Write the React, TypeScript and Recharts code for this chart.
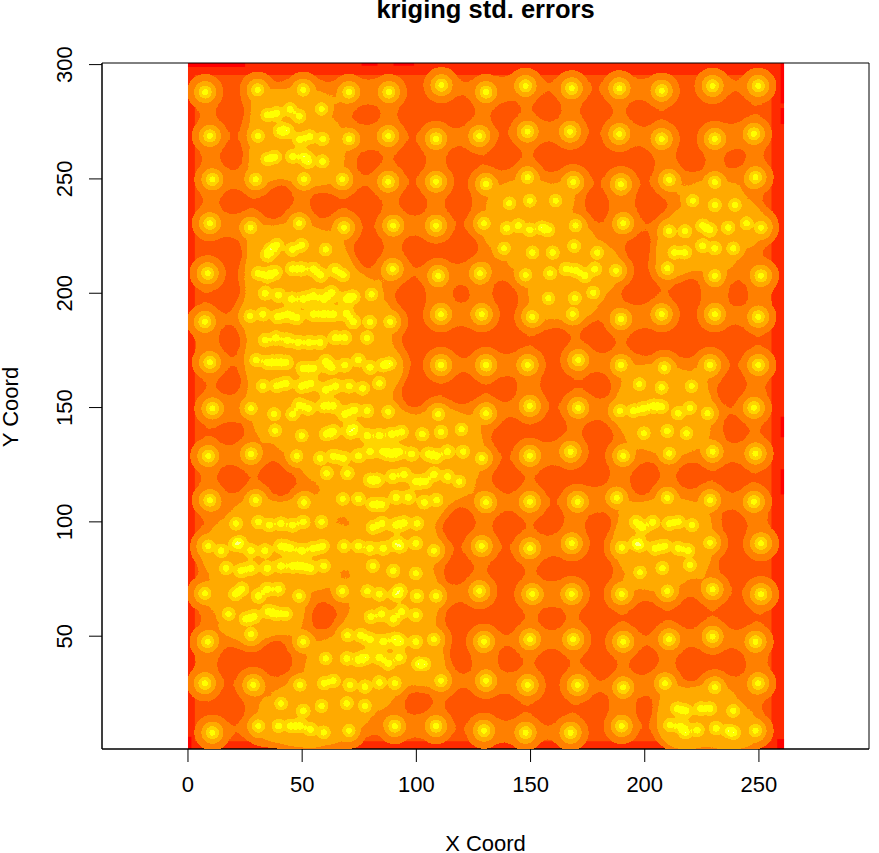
import { ScatterChart, Scatter, XAxis, YAxis, ReferenceArea } from "recharts";

// sample sites, [x, y]
const westSites = [
  [7.5,288],[30.5,289],[50.5,289],[70.5,288],[88,288],[111,291],[130.5,288],
  [34.7,278],[38.8,278.7],[44.7,280.5],[48.7,277.5],[58.5,280.6],
  [9.6,268.8],[30.6,268.8],[40.3,271],[43.2,271],[49,267.3],[53.4,268.5],[59,267.5],[70.5,267.5],[87.7,268.8],[108.6,267.5],[127.6,268.8],
  [34.7,258.7],[38,259.5],[45.8,259.8],[50.8,259.8],[52.7,257.6],[59,257.6],
  [10.7,249.8],[29.6,249.8],[50.8,249.8],[67.6,249.8],[87.7,248.8],[108.6,248.8],[130.5,247.8],
  [9.6,230.6],[27.4,228.7],[48.7,230.6],[68.3,228.7],[89.9,229.6],[108.6,229.6],[129.6,230.6],
  [34.7,216.8],[36.2,219.2],[38.8,221.1],[45.8,219.2],[49.8,221.1],[60.3,219.2],
  [8.6,208.7],[30.6,208.7],[34.7,207.6],[38.1,209],[45.8,210.6],[49.8,210.6],[54.9,210.6],[58.1,208],[64.4,210.2],[68,208],[89.6,210.6],[109.6,207.6],[127.9,208.7],
  [33.7,200],[39.6,199.2],[45.4,197.5],[50.5,197.5],[54.9,198.8],[59.5,197.5],[62.9,200.2],[69.5,197.5],[72.4,198.5],[80.4,199.5],
  [7.4,187.5],[27.2,190],[32.7,190.8],[39.3,189.7],[43.6,190.8],[47.6,189.4],[54.9,190.8],[59.3,190.8],[63.6,190.8],[69.5,191.2],[72.4,187.5],[79.7,187.5],[88.5,187.5],[110.8,190.8],[128.6,190.8],
  [33.7,179.5],[38.5,180.5],[43.5,179.5],[48.3,178.5],[53.1,178.5],[57.8,178.5],[64.4,180.5],[68.7,180.5],[78.5,180.5],
  [9.6,169.8],[29.8,170.8],[34.7,169.8],[38.8,169.8],[42.9,169.8],[50.5,167.1],[54.9,167.1],[60.4,170.1],[62.9,167.6],[68.7,168.6],[74.6,170.8],[79.7,167.6],[85.5,168.6],[88.4,169.3],[110.8,168.6],[130.5,168.6],
  [32.7,159.4],[38.8,159.4],[42.9,160.6],[49.8,159.4],[53.7,160.6],[60.3,157.7],[64.7,159.4],[70.6,159.4],[76.5,158.4],[83.8,160.6],
  [10.7,149.6],[27.6,149.6],[37.7,147.1],[45.8,147.1],[48.7,151.1],[52.7,149.6],[59.5,150.7],[63.6,150.7],[68.7,147.1],[72.8,148.9],[78.5,148.6],[87.7,148.2],[109.6,147.1],[130.5,147.5],
  [38.1,139.9],[49.8,137.7],[60.4,138.4],[63.6,139.4],[70.9,139.4],[72.8,140.9],[78.5,137.7],[83.8,137.7],[89.2,138.4],[93.6,139.4],[102.6,138.4],[110.8,139.4],[119.8,140.5],
  [8.9,128.8],[27.6,129.7],[47.6,128.8],[57.8,127.8],[63.6,128.8],[68,127.8],[74.6,128.8],[79.7,130.7],[85.5,130.7],[89.2,129.7],[92.5,130.7],[97.9,129.7],[105.2,129.7],[108.9,128.8],[113.7,130.7],[120.5,130.7],[128.6,127.8],
  [60.7,121.2],[69.8,121.2],[79.7,118.3],[82.9,118.3],[89.6,119.8],[94.6,120.8],[99.8,117.6],[103.8,117.6],[107.7,120.8],[113.7,119.8],[118.8,117.6],
  [9.6,109.5],[29.6,109.5],[50.8,108.5],[67.7,110],[74.6,110],[80.9,107.6],[84.8,107.6],[91.1,110.7],[96.5,110.7],[103.5,108.5],[108.9,109.5],[130.5,108.5],
  [21,99.3],[30.8,100],[35.6,98.6],[40.7,99.3],[45.8,98.6],[50.5,100],[58.5,100],[80.9,97.6],[84.8,99.3],[91.1,98.6],[94.6,99.6],[100.4,99.3],
  [8.9,89.4],[14.5,87.4],[21,90.3],[22.8,90.9],[27.6,87.4],[33.7,87.4],[40.7,89.4],[44.7,88.4],[49.8,87.4],[54.9,88.4],[59,89.4],[68.3,89.4],[74.6,89.4],[79.7,88.4],[85.5,88.4],[91.1,90.3],[93.1,89.4],[99.8,90.6],[107.7,87.4],[128.6,89.4],
  [16.6,79.7],[23.2,78.6],[27.6,79.7],[34.7,79.7],[40.7,80.7],[45.8,80.7],[49.8,80.7],[53.7,79.7],[59.5,80.7],[80.9,80.7],[89.9,78.6],[99.8,77.5],
  [7.4,68.7],[20.6,68.4],[23.5,70.6],[30.8,67.6],[34.7,70.6],[39.6,70.6],[48.7,67.6],[67.6,69.7],[78.5,69.7],[83.8,68.4],[91.1,68.4],[92.8,69.9],[100.4,67.6],[108.6,67.6],[127.6,69.7],
  [17.7,59.7],[25.3,57.5],[28.9,58.5],[35.2,60.7],[38.8,59.7],[42.9,59.7],[80,58.5],[84.8,59.7],[89.9,57.5],[93.6,60.7],[99.8,59.2],
  [8.6,47.6],[27.6,50.8],[50.5,47.6],[69.8,50.5],[75.6,50.5],[79.7,48.6],[85.5,47.6],[90.6,48.6],[93.1,47.6],[99.8,47.6],[107.7,48.6],[129.6,47.6],
  [60.3,40.3],[69.5,40.3],[74.6,39.6],[77.8,40.7],[83.8,40.7],[87.7,38.1],[92.5,40.7],[100.9,37.8],[103.5,37.8],
  [7.4,29.4],[28.6,28.7],[49,28.7],[59.5,29.4],[63.6,30.5],[70.9,28.7],[77.5,27.9],[83.8,29.7],[90.6,29.4],[110.8,30.5],[130.5,30.5],
  [40.7,20.6],[50.5,17.4],[58.5,19.5],[69.5,20.6],[77.5,19.5],
  [10.7,7.8],[30.8,10.7],[39.6,10.7],[45,10.7],[49,10.7],[53.7,9.2],[59.5,7.9],[70.5,8.7],[90.6,10.7],[108.6,10.7],[129.6,8.7],
];

const eastSites = [
  [147.8,290.7],[168,289.6],[188.9,289.6],[207.4,288.6],[229.7,290.7],[249.7,290.7],
  [148.7,270.7],[167.3,270.7],[188.9,269.7],[207.4,267.5],[230.7,267.5],[247.8,269.7],
  [148.7,250.7],[168.7,248.6],[189.6,247.7],[210.7,249.6],[230.7,248.6],[248.5,250.7],
  [140.7,239.4],[149.7,240.5],[161,240.5],[221,240.5],[230.7,238.6],[239.5,238.6],
  [139.5,228.4],[144.6,229.6],[149.7,227.7],[154.9,228.7],[157.8,227.7],[169.7,229.6],[190.6,230.6],[210.7,227.2],[217.6,227.2],[225.3,229.6],[228.6,227.7],[236.6,228.7],[244.6,230.6],[250.9,228.7],
  [138.4,219.6],[150.8,217.8],[159.7,217.8],[169.1,220.7],[179.2,217.8],[213,217.8],[217.6,217.8],[225.3,220.7],[230.7,219.6],[238.8,219.6],
  [147.8,208],[158.5,208.7],[165.5,210.6],[169.9,209.9],[173.8,207.6],[178.2,210.6],[187.4,209.9],[209.9,210.9],[230.7,207.6],[250.9,207.6],
  [157.8,197.8],[169.4,197.8],[177.5,200.2],
  [150.8,189.7],[168.4,190.9],[189.6,188.7],[207.4,190.8],[230.7,190.8],[249.7,189.7],
  [148.7,168.6],[170.9,170.8],[189.6,168.6],[208.6,167.4],[228.6,168.6],[249.7,168.6],
  [197.6,160.3],[207.4,158.8],[220.5,159.4],
  [149.7,150.7],[170.9,149.9],[189.1,148.6],[195,148.6],[199.4,149.6],[203.7,150.7],[207.4,150.4],[214.7,147.5],[219.8,149.9],[227.5,147.5],[247.8,149.9],
  [199.6,138.7],[209.9,139.7],[218.3,138.7],
  [149.7,128.9],[167.5,130.7],[190.6,128.9],[210.7,129.9],[229.7,130.7],[248.5,129.9],
  [149.7,108.8],[170.6,108.8],[187.7,110.6],[209.9,110.6],[228.6,109.5],[247.8,108.8],
  [196.1,100],[199,97.6],[203.5,100],[210.7,99.3],[214.7,100],[220.8,98.6],
  [149.7,88.4],[168,90.6],[189.9,88.8],[196.1,90.6],[197.9,89.9],[204.5,88.4],[208.6,89.4],[214.7,88.4],[219.1,87.4],[228.6,90.9],[250.9,90.6],
  [197.9,77.9],[207.7,79.7],[219.8,81.1],
  [150.8,68.4],[168,68.4],[189.9,68.4],[209.9,69.7],[229.7,70.5],[250.9,68.4],
  [149.7,48.6],[168.7,48.6],[190.6,47.6],[210.7,48.6],[229.7,49.8],[248.5,47.6],
  [148.7,28.6],[170.6,28.6],[190.6,27.6],[208.9,29.4],[230.7,27.6],[249.7,29.4],
  [214.2,18.4],[217.9,17.4],[224.5,18.4],[228.6,18.4],[238.8,17.4],
  [147.8,7.8],[167.5,7.8],[189.9,10.7],[211,11.1],[215.8,10.4],[217.9,7.9],[223,8.9],[231.2,9.7],[236.6,8.5],[239.1,7.8],[248.5,8.7],
];

const sites = [...westSites, ...eastSites].map(([x, y]) => ({ x, y }));

const xTicks = [0, 50, 100, 150, 200, 250];
const yTicks = [50, 100, 150, 200, 250, 300];
const xLimits = [-37.65, 298.2];
const yLimits = [0.66, 300.7];

// darkest red strips along the border of the grid: [x1, x2, y1, y2]
const redStrips = [
  [0, 25, 299, 300.7], [76, 83, 299.5, 300.7], [90, 99, 299.5, 300.7],
  [259.5, 261, 283, 300.7], [259.5, 261, 274, 281], [259.5, 261, 137, 146], [259.5, 261, 112, 123],
  [258, 261, 0.66, 5], [0, 1.5, 0.66, 6],
];

// each site's blob as [radius px, opacity]; overlapping blobs add up and the filter cuts bands out of the sum
const blobStops = [
  [0, 0.9975], [1, 0.985], [3, 0.955], [5, 0.8], [6.5, 0.727], [8, 0.38], [11, 0.208], [13, 0.135], [18, 0.097], [21, 0.072], [23, 0.053], [27, 0.022], [32, 0],
];
const BLOB_R = 32;

// contour bands: [lowest summed opacity, green, blue] of a #FF....  colour
const bandLevels = [
  [0, 0.333, 0],
  [0.095, 0.502, 0],
  [0.205, 0.667, 0],
  [0.725, 0.835, 0],
  [0.95, 1, 0],
  [0.995, 1, 0.5],
];

const tableFor = (pick: (b: number[]) => number) => {
  const out: number[] = [];
  for (let i = 0; i < 256; i++) {
    const v = i / 256;
    let level = bandLevels[0];
    for (const b of bandLevels) if (v >= b[0]) level = b;
    out.push(pick(level));
  }
  return out.join(" ");
};

const FONT = "'Liberation Sans', Arial, sans-serif";

function YTick({ x, y, payload }: any) {
  return (
    <text x={x - 15} y={y} transform={`rotate(-90 ${x - 15} ${y})`} textAnchor="middle" fontSize={22} fontFamily={FONT} fill="#000">
      {payload.value}
    </text>
  );
}

function XTick({ x, y, payload }: any) {
  return (
    <text x={x} y={y + 28} textAnchor="middle" fontSize={22} fontFamily={FONT} fill="#000">
      {payload.value}
    </text>
  );
}

export default function App() {
  return (
    <div style={{ position: "absolute", left: 0, top: 0, width: 879, height: 853, background: "#fff" }}>
      <style>{`.recharts-scatter { filter: url(#bands); }`}</style>
      <ScatterChart width={879} height={853} margin={{ top: 63, right: 10, bottom: 0, left: 0 }}>
        <defs>
          <radialGradient id="blob">
            {blobStops.map(([r, a]) => (
              <stop key={r} offset={r / BLOB_R} stopColor="#000" stopOpacity={a} />
            ))}
          </radialGradient>
          <filter id="bands" filterUnits="userSpaceOnUse" x={188} y={64} width={596} height={685} colorInterpolationFilters="sRGB">
            <feColorMatrix in="SourceGraphic" type="matrix" values="0 0 0 1 0 0 0 0 1 0 0 0 0 1 0 0 0 0 0 1" result="field" />
            <feComponentTransfer in="field" result="colored">
              <feFuncR type="linear" slope={0} intercept={1} />
              <feFuncG type="discrete" tableValues={tableFor((b) => b[1])} />
              <feFuncB type="discrete" tableValues={tableFor((b) => b[2])} />
            </feComponentTransfer>
            <feComponentTransfer in="SourceAlpha" result="mask">
              <feFuncA type="discrete" tableValues={tableFor((b) => (b[0] > 0 ? 1 : 0))} />
            </feComponentTransfer>
            <feComposite in="colored" in2="mask" operator="in" />
          </filter>
        </defs>
        <XAxis
          type="number"
          dataKey="x"
          domain={xLimits}
          allowDataOverflow
          ticks={xTicks}
          height={104}
          stroke="#000"
          tickLine={{ stroke: "#000" }}
          tickSize={13}
          tick={<XTick />}
          interval={0}
        />
        <YAxis
          type="number"
          dataKey="y"
          domain={yLimits}
          allowDataOverflow
          ticks={yTicks}
          width={102}
          stroke="#000"
          tickLine={{ stroke: "#000" }}
          tickSize={13}
          tick={<YTick />}
          interval={0}
        />
        <ReferenceArea x1={0} x2={261} y1={yLimits[0]} y2={yLimits[1]} fill="#FF2A00" fillOpacity={1} stroke="none" />
        <ReferenceArea x1={3} x2={255.5} y1={4} y2={295.5} fill="#FF5500" fillOpacity={1} stroke="none" />
        {redStrips.map(([x1, x2, y1, y2], i) => (
          <ReferenceArea key={i} x1={x1} x2={x2} y1={y1} y2={y2} fill="#FF0000" fillOpacity={1} stroke="none" />
        ))}
        <Scatter
          data={sites}
          isAnimationActive={false}
          shape={(p: any) => <circle cx={p.cx} cy={p.cy} r={BLOB_R} fill="url(#blob)" />}
        />
        <ReferenceArea x1={xLimits[0]} x2={xLimits[1]} y1={yLimits[0]} y2={yLimits[1]} fill="none" stroke="#000" strokeWidth={1} />
        <text x={485.5} y={18} textAnchor="middle" fontSize={25.5} fontWeight="bold" fontFamily={FONT} fill="#000">
          kriging std. errors
        </text>
        <text x={485.5} y={851} textAnchor="middle" fontSize={22} fontFamily={FONT} fill="#000">
          X Coord
        </text>
        <text x={18} y={407} transform="rotate(-90 18 407)" textAnchor="middle" fontSize={22} fontFamily={FONT} fill="#000">
          Y Coord
        </text>
      </ScatterChart>
    </div>
  );
}
